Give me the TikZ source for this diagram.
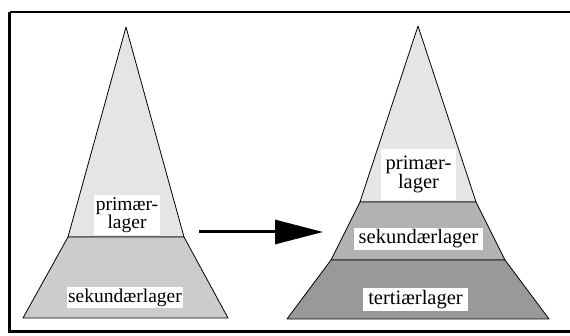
\documentclass[tikz,border=0pt]{standalone}
\usepackage{fontspec}
\setmainfont{Liberation Serif}
\usetikzlibrary{arrows.meta}

\tikzset{
    layer/.style={draw=black, line width=0.8pt, line join=round},
    tag/.style={fill=white, inner xsep=1.5pt, inner ysep=2pt, align=center,
        font=\fontsize{19.5}{12}\selectfont},
    bigtag/.style={tag, inner xsep=5pt, font=\fontsize{20.5}{12.5}\selectfont},
}

\begin{document}
\begin{tikzpicture}[x=1pt, y=-1pt, >={Triangle[length=48pt, width=24pt]}]
    \useasboundingbox (0,0) rectangle (570,336);
    \draw[line width=2.6pt] (9.5,12) -- (9.5,331.5) -- (580,331.5) (580,12) -- (9.5,12);

    % two-level pyramid
    \filldraw[layer, fill=black!10] (126,27) -- (68,237) -- (184,237) -- cycle;
    \filldraw[layer, fill=black!20] (68,237) -- (23,318) -- (228,318) -- (184,237) -- cycle;

    % three-level pyramid
    \filldraw[layer, fill=black!10] (418,26) -- (360,202) -- (476,202) -- cycle;
    \filldraw[layer, fill=black!30] (360,202) -- (331,260) -- (505,260) -- (476,202) -- cycle;
    \filldraw[layer, fill=black!40] (331,260) -- (287,319) -- (549,319) -- (505,260) -- cycle;

    \node[tag] (prim1) at (127,215) {primær-\\lager};
    \node[tag] (sek1) at (125,297.5) {sekundærlager};
    \node[bigtag, inner ysep=7pt] (prim2) at (418.5,174.5) {primær-\\lager};
    \node[bigtag, inner ysep=1.5pt] (sek2) at (418.5,239) {sekundærlager};
    \node[bigtag] (tert2) at (415.5,299.5) {tertiærlager};

    \coordinate (from) at (199,232);
    \coordinate (to) at (323,232);
    \draw[->, line width=3pt] (from) -- (to);
\end{tikzpicture}
\end{document}
